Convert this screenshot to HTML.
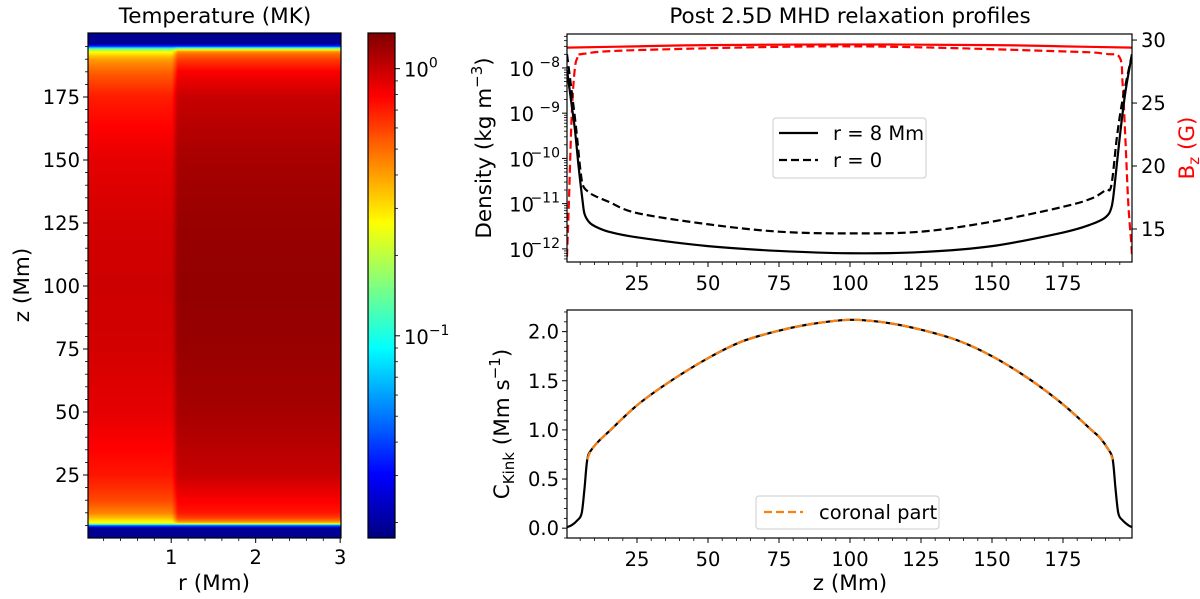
<!DOCTYPE html>
<html><head><meta charset="utf-8">
<style>
html,body{margin:0;padding:0;background:#fff;width:1200px;height:599px;overflow:hidden}
#wrap{position:relative;width:1200px;height:599px}
canvas,svg{position:absolute;left:0;top:0}
text{font-family:"DejaVu Sans","Liberation Sans",sans-serif;fill:#000}
</style></head>
<body>
<div id="wrap">
<canvas id="cv" width="1200" height="599"></canvas>
<svg id="sv" width="1200" height="599" xmlns="http://www.w3.org/2000/svg"></svg>
</div>
<script>
// ---- Temperature heatmap data (MK) ----
const zT = [0,4,5,5.5,6,7,8,10,15,25,50,75,100,125,150,175,185,190,192,193,194,194.5,195,196,200];
const TInner = [0.019,0.019,0.05,0.15,0.25,0.3,0.35,0.45,0.58,0.72,0.88,0.95,0.98,0.95,0.88,0.7,0.52,0.4,0.3,0.25,0.15,0.08,0.04,0.019,0.019];
const TOuter = [0.019,0.019,0.05,0.15,0.35,0.5,0.6,0.72,0.8,1.0,1.15,1.22,1.25,1.22,1.15,1.0,0.8,0.6,0.5,0.42,0.2,0.1,0.04,0.019,0.019];
const rBoundary = 1.05;
const rTicks = [1,2,3];
const zTicksL = [25,50,75,100,125,150,175];
// ---- Density profiles ----
const zRho8 = [0.35,2,3.2,4.5,5.8,6.5,8,10,15,25,50,75,100,125,150,175,185,190,192,193,195,197,199.3];
const rho8 = [9e-9,1.5e-9,4e-10,6e-11,1.2e-11,6e-12,4e-12,3.2e-12,2.4e-12,1.8e-12,1.15e-12,0.9e-12,0.8e-12,0.85e-12,1.15e-12,2.3e-12,3.5e-12,5e-12,8e-12,2e-11,3e-10,3e-9,2e-8];
const zRho0 = [0.35,2,3.5,5,6,8,10,15,25,50,75,100,125,150,175,185,190,192,194,196,199.3];
const rho0 = [2e-8,3e-9,5e-10,6e-11,2.5e-11,1.8e-11,1.5e-11,1.1e-11,6.2e-12,3.5e-12,2.4e-12,2.2e-12,2.4e-12,4e-12,8.5e-12,1.3e-11,2e-11,2.5e-11,3e-10,2e-9,2e-8];
const zBz = [0.35,25,50,100,150,175,199.3];
const bz8 = [29.4,29.5,29.6,29.65,29.6,29.5,29.4];
const zBz0 = [0.35,1,2,3,4,6,25,100,175,190,195,196,197,198,199,199.3];
const bz0 = [12.8,17,24,27.5,28.6,28.9,29.2,29.5,29.1,28.9,28.6,26.5,22,17,14,12.8];
const yTicksRho = [-12,-11,-10,-9,-8];
const yTicksBz = [15,20,25,30];
const xTicksR = [25,50,75,100,125,150,175];
// ---- Kink speed ----
const zK = [0.35,2,4,5.5,6.5,7.5,9,12,15,25,37,50,62,75,87,100,113,125,138,150,163,175,185,188,191,192.5,193.5,194.5,196,198,199.3];
const cK = [0.01,0.03,0.08,0.15,0.4,0.7,0.8,0.9,0.98,1.25,1.5,1.73,1.9,2.01,2.08,2.12,2.09,2.02,1.91,1.75,1.52,1.26,1.0,0.92,0.8,0.7,0.4,0.15,0.08,0.03,0.01];
const coronalRange = [7.5,192.5];
const yTicksK = [0,0.5,1.0,1.5,2.0];

const FT=19.5, FL=21.5, FS=14;
const NS='http://www.w3.org/2000/svg';
const sv=document.getElementById('sv');
function el(tag,attrs,parent){const e=document.createElementNS(NS,tag);for(const k in attrs)e.setAttribute(k,attrs[k]);(parent||sv).appendChild(e);return e;}
function txt(s,x,y,attrs,parent){const t=el('text',Object.assign({x:x,y:y},attrs||{}),parent);t.textContent=s;return t;}
function lin(d0,d1,p0,p1){return v=>p0+(v-d0)/(d1-d0)*(p1-p0);}
function interp(xs,ys,x){if(x<=xs[0])return ys[0];for(let i=1;i<xs.length;i++){if(x<=xs[i]){const t=(x-xs[i-1])/(xs[i]-xs[i-1]);return ys[i-1]+t*(ys[i]-ys[i-1]);}}return ys[ys.length-1];}
function jet(f){const c=v=>Math.round(255*Math.max(0,Math.min(1,v)));return 'rgb('+c(1.5-Math.abs(4*f-3))+','+c(1.5-Math.abs(4*f-2))+','+c(1.5-Math.abs(4*f-1))+')';}

// ---------- Heatmap ----------
const HX0=88,HX1=341,HY0=33,HY1=538;
const rX=lin(0.015,3.01,HX0,HX1), zY=lin(0,200.4,HY1,HY0);
const LMIN=Math.log10(0.0175),LMAX=Math.log10(1.36);
const fOf=T=>(Math.log10(T)-LMIN)/(LMAX-LMIN);
const cv=document.getElementById('cv').getContext('2d');
const bx=Math.round(rX(rBoundary));
for(let py=HY0;py<HY1;py++){
  const z=(HY1-(py+0.5))/(HY1-HY0)*200.4;
  const ti=interp(zT,TInner,z), to=interp(zT,TOuter,z);
  cv.fillStyle=jet(fOf(ti));cv.fillRect(HX0,py,bx-3-HX0,1);
  for(let k=0;k<6;k++){const t=(k+0.5)/6;cv.fillStyle=jet(fOf(Math.exp(Math.log(ti)*(1-t)+Math.log(to)*t)));cv.fillRect(bx-3+k,py,1,1);}
  cv.fillStyle=jet(fOf(to));cv.fillRect(bx+3,py,HX1-bx-3,1);
}
const CX0=368,CX1=395;
for(let py=HY0;py<HY1;py++){const f=1-(py+0.5-HY0)/(HY1-HY0);cv.fillStyle=jet(f);cv.fillRect(CX0,py,CX1-CX0,1);}

const gH=el('g',{});
el('rect',{x:HX0,y:HY0,width:HX1-HX0,height:HY1-HY0,fill:'none',stroke:'#000','stroke-width':1.2,},gH);
txt('Temperature (MK)',215,23,{'font-size':FL,'text-anchor':'middle',},gH);
rTicks.forEach(r=>{const x=rX(r);el('line',{x1:x,x2:x,y1:HY1,y2:HY1+5,stroke:'#000'},gH);txt(String(r),x,HY1+26,{'font-size':FT,'text-anchor':'middle',},gH);});
for(let r=0.2;r<3.01;r+=0.2){if(Math.abs(r-Math.round(r))<0.01)continue;const x=rX(r);el('line',{x1:x,x2:x,y1:HY1,y2:HY1+3,stroke:'#000','stroke-width':0.8},gH);}
zTicksL.forEach(z=>{const y=zY(z);el('line',{x1:HX0-5,x2:HX0,y1:y,y2:y,stroke:'#000'},gH);txt(String(z),HX0-8,y+7,{'font-size':FT,'text-anchor':'end',},gH);});
for(let z=5;z<200;z+=5){if(z%25===0)continue;const y=zY(z);el('line',{x1:HX0-3,x2:HX0,y1:y,y2:y,stroke:'#000','stroke-width':0.8},gH);}
txt('r (Mm)',214,590,{'font-size':FL,'text-anchor':'middle',},gH);
txt('z (Mm)',0,0,{'font-size':FL,'text-anchor':'middle',transform:'translate(29,285) rotate(-90)',},gH);
const cY=lin(LMIN,LMAX,HY1,HY0);
el('rect',{x:CX0,y:HY0,width:CX1-CX0,height:HY1-HY0,fill:'none',stroke:'#000','stroke-width':1.2,},gH);
[[1,'0'],[0.1,'−1']].forEach(([v,e])=>{const y=cY(Math.log10(v));el('line',{x1:CX1,x2:CX1+5,y1:y,y2:y,stroke:'#000'},gH);const t=txt('10',CX1+9,y+8,{'font-size':FT,},gH);const s=el('tspan',{dy:-9,'font-size':FS},t);s.textContent=e;});
[0.02,0.03,0.04,0.05,0.06,0.07,0.08,0.09,0.2,0.3,0.4,0.5,0.6,0.7,0.8,0.9].forEach(v=>{const y=cY(Math.log10(v));el('line',{x1:CX1,x2:CX1+3,y1:y,y2:y,stroke:'#000','stroke-width':0.8},gH);});

// ---------- Top right panel ----------
const PX0=567,PX1=1132,TY0=34,TY1=262;
const zX=lin(0.35,199.3,PX0,PX1);
const rhoY=lin(-12.29,-7.25,TY1,TY0), bzY=lin(12.38,30.48,TY1,TY0);
const gT=el('g',{});
el('defs',{},gT).innerHTML='<clipPath id="cT"><rect x="'+PX0+'" y="'+TY0+'" width="'+(PX1-PX0)+'" height="'+(TY1-TY0)+'"/></clipPath><clipPath id="cB"><rect x="'+PX0+'" y="310" width="'+(PX1-PX0)+'" height="228"/></clipPath>';
function path(xs,ys,fx,fy,attrs,parent){
  const P=xs.map((x,i)=>[fx(x),fy(ys[i])]);
  let d='M'+P[0][0].toFixed(2)+','+P[0][1].toFixed(2);
  for(let i=0;i<P.length-1;i++){
    const p0=P[Math.max(0,i-1)],p1=P[i],p2=P[i+1],p3=P[Math.min(P.length-1,i+2)];
    const c1=[p1[0]+(p2[0]-p0[0])/6,p1[1]+(p2[1]-p0[1])/6],c2=[p2[0]-(p3[0]-p1[0])/6,p2[1]-(p3[1]-p1[1])/6];
    d+='C'+c1[0].toFixed(2)+','+c1[1].toFixed(2)+' '+c2[0].toFixed(2)+','+c2[1].toFixed(2)+' '+p2[0].toFixed(2)+','+p2[1].toFixed(2);
  }
  return el('path',Object.assign({d:d,fill:'none'},attrs),parent);}
const gc=el('g',{'clip-path':'url(#cT)'},gT);
const pB8=path(zBz,bz8,zX,bzY,{stroke:'#ff0000','stroke-width':2.2},gc);

const pB0=path(zBz0,bz0,zX,bzY,{stroke:'#ff0000','stroke-width':2.2,'stroke-dasharray':'8,4'},gc);

const pR8=path(zRho8,rho8,zX,v=>rhoY(Math.log10(v)),{stroke:'#000','stroke-width':2.2},gc);

const pR0=path(zRho0,rho0,zX,v=>rhoY(Math.log10(v)),{stroke:'#000','stroke-width':2.2,'stroke-dasharray':'8,4'},gc);

el('rect',{x:PX0,y:TY0,width:PX1-PX0,height:TY1-TY0,fill:'none',stroke:'#000','stroke-width':1.2,},gT);
txt('Post 2.5D MHD relaxation profiles',850,23,{'font-size':FL,'text-anchor':'middle',},gT);
function xTicks(yb,g){xTicksR.forEach(z=>{const x=zX(z);el('line',{x1:x,x2:x,y1:yb,y2:yb+5,stroke:'#000'},g);txt(String(z),x,yb+28,{'font-size':FT,'text-anchor':'middle',},g);});
for(let z=5;z<200;z+=5){if(z%25===0)continue;const x=zX(z);el('line',{x1:x,x2:x,y1:yb,y2:yb+3,stroke:'#000','stroke-width':0.8},g);}}
xTicks(TY1,gT);
yTicksRho.forEach(e=>{const y=rhoY(e);el('line',{x1:PX0-5,x2:PX0,y1:y,y2:y,stroke:'#000'},gT);txt('10',PX0-33,y+8,{'font-size':FT,'text-anchor':'end',},gT);const s=el('text',{x:PX0-7,y:y-1,'font-size':FS,'text-anchor':'end'},gT);s.textContent='−'+(-e);});
for(let e=-13;e<=-7;e++)for(let m=2;m<10;m++){const l=e+Math.log10(m);if(l<-12.29||l>-7.25)continue;const y=rhoY(l);el('line',{x1:PX0-3,x2:PX0,y1:y,y2:y,stroke:'#000','stroke-width':0.8},gT);}
yTicksBz.forEach(b=>{const y=bzY(b);el('line',{x1:PX1,x2:PX1+5,y1:y,y2:y,stroke:'#000'},gT);txt(String(b),PX1+9,y+7,{'font-size':FT,},gT);});
const yl=txt('Density (kg m',0,0,{'font-size':FL,'text-anchor':'middle',transform:'translate(491,148) rotate(-90)',},gT);
const ys1=el('tspan',{dy:-9,'font-size':15},yl);ys1.textContent='−3';const ys2=el('tspan',{dy:9},yl);ys2.textContent=')';
const bl=txt('B',0,0,{'font-size':FL,'text-anchor':'middle',style:'fill:#ff0000',transform:'translate(1194,148) rotate(-90)',},gT);
const bs=el('tspan',{dy:5,'font-size':15,style:'fill:#ff0000'},bl);bs.textContent='z';const bs2=el('tspan',{dy:-5,style:'fill:#ff0000'},bl);bs2.textContent=' (G)';
const lg=el('g',{},gT);
el('rect',{x:773,y:118,width:153,height:60,rx:3,fill:'#fff',stroke:'#ccc','stroke-width':1},lg);
el('line',{x1:779,x2:818,y1:133,y2:133,stroke:'#000','stroke-width':2.2},lg);
el('line',{x1:779,x2:818,y1:160,y2:160,stroke:'#000','stroke-width':2.2,'stroke-dasharray':'8,4'},lg);
txt('r = 8 Mm',833,140,{'font-size':FT,},lg);
txt('r = 0',833,167,{'font-size':FT,},lg);

// ---------- Bottom right panel ----------
const BY0=310,BY1=538;
const kY=lin(-0.10,2.22,BY1,BY0);
const gB=el('g',{});
const gbc=el('g',{'clip-path':'url(#cB)'},gB);
const pK=path(zK,cK,zX,kY,{stroke:'#000','stroke-width':2.2},gbc);

const zc=[],cc=[];zK.forEach((z,i)=>{if(z>=coronalRange[0]&&z<=coronalRange[1]){zc.push(z);cc.push(cK[i]);}});
const pC=path(zc,cc,zX,kY,{stroke:'#ff7f0e','stroke-width':2.2,'stroke-dasharray':'8,4'},gbc);

el('rect',{x:PX0,y:BY0,width:PX1-PX0,height:BY1-BY0,fill:'none',stroke:'#000','stroke-width':1.2,},gB);
xTicks(BY1,gB);
yTicksK.forEach(v=>{const y=kY(v);el('line',{x1:PX0-5,x2:PX0,y1:y,y2:y,stroke:'#000'},gB);txt(v.toFixed(1),PX0-8,y+7,{'font-size':FT,'text-anchor':'end',},gB);});
for(let v=-0.1;v<2.22;v+=0.1){if(Math.abs(v*2-Math.round(v*2))<0.01)continue;const y=kY(v);el('line',{x1:PX0-3,x2:PX0,y1:y,y2:y,stroke:'#000','stroke-width':0.8},gB);}
txt('z (Mm)',850,590,{'font-size':FL,'text-anchor':'middle',},gB);
const kl=txt('C',0,0,{'font-size':FL,'text-anchor':'middle',transform:'translate(509,424) rotate(-90)',},gB);
const k1=el('tspan',{dy:5,'font-size':15},kl);k1.textContent='Kink';const k2=el('tspan',{dy:-5},kl);k2.textContent=' (Mm s';const k3=el('tspan',{dy:-9,'font-size':15},kl);k3.textContent='−1';const k4=el('tspan',{dy:9},kl);k4.textContent=')';
const lg2=el('g',{},gB);
el('rect',{x:756,y:496,width:183,height:33,rx:3,fill:'#fff',stroke:'#ccc','stroke-width':1},lg2);
el('line',{x1:764,x2:803,y1:512,y2:512,stroke:'#ff7f0e','stroke-width':2.2,'stroke-dasharray':'8,4'},lg2);
txt('coronal part',819,519,{'font-size':FT,},lg2);
</script>
</body></html>
